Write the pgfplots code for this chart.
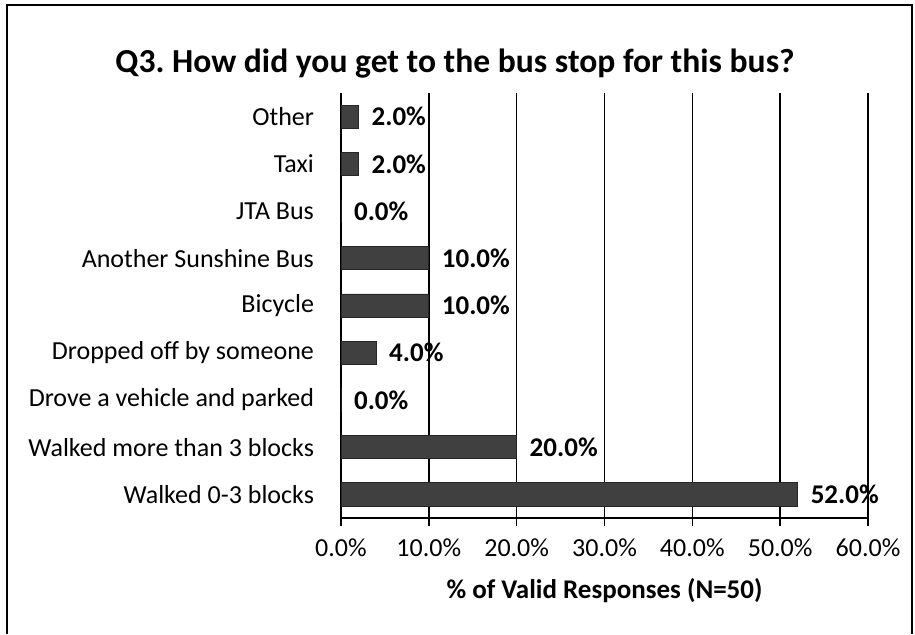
\documentclass[border=0pt]{standalone}
\usepackage{pgfplots}
\pgfplotsset{compat=1.18}
\usepackage{fontspec}
\setmainfont{Carlito}

\begin{document}
\frenchspacing
\begin{tikzpicture}
% page: 915x634 px at 0.5pt per px
\useasboundingbox (0,0) rectangle (457.5pt,317pt);
\draw[line width=0.8pt] (3.5pt,0) -- (3.5pt,314.5pt) -- (456pt,314.5pt) -- (456pt,0);
\node[font=\bfseries\fontsize{16.8}{19}\selectfont] at (227.5pt,285pt)
    {Q3. How did you get to the bus stop for this bus?};
\begin{axis}[
    at={(170.5pt,58pt)},
    anchor=south west,
    scale only axis,
    width=263.5pt,
    height=212.5pt,
    xbar,
    bar width=0.49,
    xmin=0, xmax=60,
    ymin=-0.5, ymax=8.5,
    xtick={0,10,...,60},
    ytick={0,...,8},
    yticklabels={Walked 0-3 blocks,Walked more than 3 blocks,Drove a vehicle and parked,Dropped off by someone,Bicycle,Another Sunshine Bus,JTA Bus,Taxi,Other},
    extra y ticks={-0.5,0.5,...,8.5},
    extra y tick labels={},
    extra y tick style={major tick length=4pt},
    major y tick style={draw=none},
    axis x line*=bottom,
    axis y line*=left,
    axis line style={line width=0.8pt,-},
    xmajorgrids,
    grid style={black,line width=0.8pt},
    tick style={black,line width=0.8pt},
    tick align=outside,
    major tick length=4pt,
    xticklabel={\pgfmathprintnumber[fixed,fixed zerofill,precision=1]{\tick}\%},
    /pgf/number format/assume math mode=true,
    tick label style={font=\fontsize{13}{15}\selectfont},
    yticklabel style={xshift=-6pt},
    xticklabel style={yshift=-3pt},
    xlabel={\% of Valid Responses (N=50)},
    xlabel style={font=\bfseries\fontsize{13.5}{15}\selectfont, yshift=-4pt},
    nodes near coords={\pgfmathprintnumber[fixed,fixed zerofill,precision=1,assume math mode=true]{\pgfplotspointmeta}\%},
    every node near coord/.append style={font=\bfseries\fontsize{13.5}{15}\selectfont, anchor=west, xshift=3pt},
]
\addplot[fill=black!75, draw=black!85] coordinates {
    (52,0) (20,1) (0,2) (4,3) (10,4) (10,5) (0,6) (2,7) (2,8)
};
\end{axis}
\end{tikzpicture}
\end{document}
